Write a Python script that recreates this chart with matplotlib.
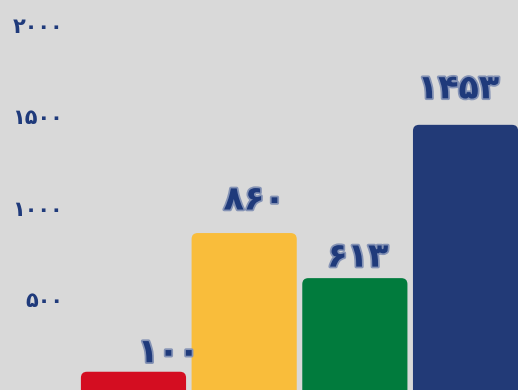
import matplotlib
matplotlib.use("Agg")
import matplotlib.pyplot as plt
from matplotlib.patches import FancyBboxPatch
import matplotlib.patheffects as pe

# ---- data ----
categories = ["A", "B", "C", "D"]
values = [100, 860, 613, 1453]
bar_colors = ["#d40d21", "#f9bd3b", "#017b3d", "#223a77"]
yticks = [0, 500, 1000, 1500, 2000]

PERSIAN = str.maketrans("0123456789", "۰۱۲۳۴۵۶۷۸۹")
def fa(n):
    return str(n).translate(PERSIAN)

# ---- style ----
BG = "#d9d9d9"
NAVY = "#1f3a7b"
label_dx = [35, 10, 3, -7]    # px offsets of value labels
label_dy = [19, 33, 21, 36]   # px offsets above bar top (label centre)

fig = plt.figure(figsize=(5.18, 3.90), dpi=100)
fig.patch.set_facecolor(BG)
ax = fig.add_axes([0, 0, 1, 1])
ax.set_facecolor(BG)
for s in ax.spines.values():
    s.set_visible(False)

x = list(range(len(categories)))
bars = ax.bar(x, values, width=0.95, color=bar_colors)
ax.set_xlim(-1.206, 3.474)
ax.set_ylim(5.5, 2137)

# rounded top corners
r_x = 0.055
aspect = (1 / 0.1830) / (1 / 110.67)
for b, c in zip(bars, bar_colors):
    bx, by, bw, bh = b.get_x(), b.get_y(), b.get_width(), b.get_height()
    b.set_visible(False)
    p = FancyBboxPatch((bx, by - 60), bw, bh + 60,
                       boxstyle=f"round,pad=0,rounding_size={r_x}",
                       mutation_aspect=aspect, facecolor=c, edgecolor="none")
    ax.add_patch(p)

ax.set_xticks([])
ax.set_yticks(yticks)
ax.set_yticklabels([fa(t) for t in yticks])
ax.tick_params(axis="y", length=0, pad=-45.3, labelsize=15, labelcolor=NAVY)
for t in ax.get_yticklabels():
    t.set_fontweight("bold")
    t.set_family("DejaVu Sans")

stroke = [pe.withStroke(linewidth=2.5, foreground="#8593b5")]
for i, v in enumerate(values):
    ax.annotate(fa(v), (x[i], v), xytext=(label_dx[i] * 0.72, label_dy[i] * 0.72),
                textcoords="offset points", ha="center", va="center",
                fontsize=24, fontweight="bold", color=NAVY,
                family="DejaVu Sans", path_effects=stroke)

fig.savefig("out.png", dpi=100, facecolor=BG)
